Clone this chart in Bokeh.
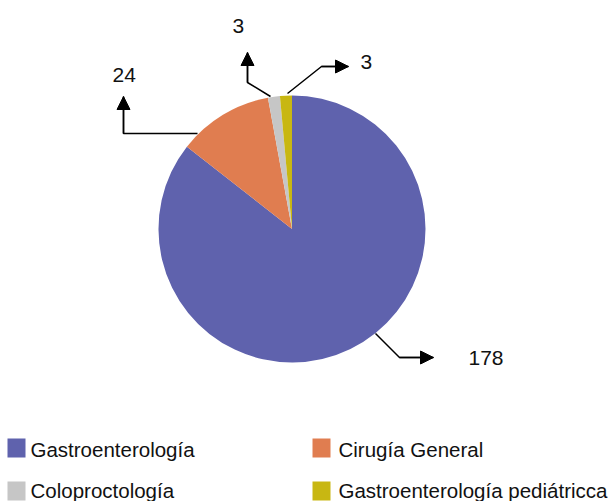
import math
from bokeh.plotting import figure
from bokeh.models import Range1d, Arrow, NormalHead, ColumnDataSource
from bokeh.core.properties import value
from bokeh.embed import file_html
from bokeh.resources import INLINE

categories = ["Gastroenterología", "Cirugía General", "Coloproctología", "Gastroenterología pediátricca"]
counts = [178, 24, 3, 3]
colors = ["#5F62AD", "#E07D50", "#C6C6C6", "#C8B712"]

FONT = "Liberation Sans"
W, H = 609, 501
TEXT_SHIFT = 8  # renderer places alphabetic baseline lower than requested

def Y(py):
    return H - py

p = figure(width=W, height=H, output_backend="svg", toolbar_location=None,
           x_range=Range1d(0, W), y_range=Range1d(0, H), min_border=0)
p.axis.visible = False
p.grid.visible = False
p.outline_line_color = None
p.background_fill_color = "white"

total = sum(counts)
starts, ends = [], []
cum = 0
for c in counts:
    starts.append(math.pi / 2 - 2 * math.pi * cum / total)
    cum += c
    ends.append(math.pi / 2 - 2 * math.pi * cum / total)

cx, cy, r = 291.5, Y(228.5), 133.5
src = ColumnDataSource(dict(start=starts, end=ends, color=colors, cat=categories))
p.wedge(x=cx, y=cy, radius=r, start_angle="start", end_angle="end", direction="clock",
        fill_color="color", line_color=None, source=src)

# leader lines: polyline points (page px), last segment has arrow
leaders = [
    [(197, 133), (123, 133), (123, 96)],
    [(270, 96), (247, 82), (247, 52)],
    [(287, 93), (321, 66), (348, 66)],
    [(375, 333), (399, 357), (433, 357)],
]
for pts in leaders:
    xs = [q[0] for q in pts]
    ys = [Y(q[1]) for q in pts]
    p.line(xs, ys, line_color="black", line_width=1.5)
    p.add_layout(Arrow(end=NormalHead(size=13, fill_color="black", line_color="black"),
                       x_start=xs[-2], y_start=ys[-2], x_end=xs[-1], y_end=ys[-1],
                       line_color="black", line_width=1.5))

label_pos = [(468, 365), (112, 82), (232, 33), (360, 69)]
p.text(x=[q[0] for q in label_pos], y=[Y(q[1] - TEXT_SHIFT) for q in label_pos],
       text=[str(c) for c in counts], text_font=value(FONT), text_font_size="21px",
       text_color="#111111", text_baseline="alphabetic", text_align="left")

# legend
sq_x = [7, 312, 7, 312]
sq_y = [438, 438, 481, 481]
tx = [30, 338, 30, 338]
ty = [457, 457, 498, 498]
p.rect(x=[sx + 9 for sx in sq_x], y=[Y(sy + 9.5) for sy in sq_y], width=18, height=19,
       fill_color=colors, line_color=None)
p.text(x=tx, y=[Y(t - TEXT_SHIFT) for t in ty], text=categories, text_font=value(FONT),
       text_font_size="20.5px", text_color="#111111", text_baseline="alphabetic")

open("out.html", "w").write(file_html(p, INLINE))
